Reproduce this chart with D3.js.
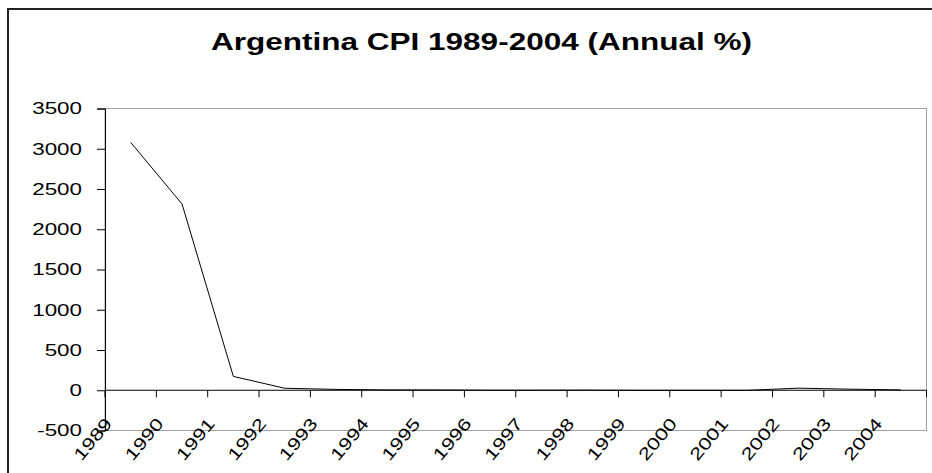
<!DOCTYPE html>
<html>
<head>
<meta charset="utf-8">
<script src="https://cdn.jsdelivr.net/npm/d3@7"></script>
<style>
  body { margin: 0; background: #fff; }
  text { font-family: "Liberation Sans", Arial, sans-serif; }
</style>
</head>
<body>
<div id="chart"></div>
<script>
const years = ['1989', '1990', '1991', '1992', '1993', '1994', '1995', '1996',
  '1997', '1998', '1999', '2000', '2001', '2002', '2003', '2004'];
const cpi = [3079.5, 2314.0, 171.7, 24.9, 10.6, 4.2, 3.4, 0.2,
  0.5, 0.9, -1.2, -0.9, -1.1, 25.9, 13.4, 4.4];
const yTicks = [-500, 0, 500, 1000, 1500, 2000, 2500, 3000, 3500];

const width = 932, height = 473;
const plot = { left: 105, right: 926.5, top: 108.5, bottom: 430.5 };
const stretch = 1.4; // text in the picture is drawn wide

const svg = d3.select('#chart')
  .append('svg')
  .attr('width', width)
  .attr('height', height);

// outer chart frame (runs off the right and bottom edge)
svg.append('rect')
  .attr('x', 8).attr('y', 9)
  .attr('width', 960).attr('height', 500)
  .attr('fill', 'none')
  .attr('stroke', '#222')
  .attr('stroke-width', 2);

svg.append('text')
  .attr('x', 211)
  .attr('y', 50)
  .attr('font-size', 23)
  .attr('font-weight', 'bold')
  .attr('textLength', 541)
  .attr('lengthAdjust', 'spacingAndGlyphs')
  .text('Argentina CPI 1989-2004 (Annual %)');

const x = d3.scaleBand()
  .domain(years)
  .range([plot.left, plot.right]);

const y = d3.scaleLinear()
  .domain([-500, 3500])
  .range([plot.bottom, plot.top]);

// plot area border
svg.append('rect')
  .attr('x', plot.left).attr('y', plot.top)
  .attr('width', plot.right - plot.left)
  .attr('height', plot.bottom - plot.top)
  .attr('fill', '#fff')
  .attr('stroke', '#a0a0a0')
  .attr('stroke-width', 1);

// y axis
const yAxis = svg.append('g')
  .attr('transform', `translate(${plot.left},0)`)
  .call(d3.axisLeft(y).tickValues(yTicks).tickSize(8).tickFormat(''));
yAxis.select('.domain').attr('stroke', '#000');
yAxis.selectAll('.tick line').attr('stroke', '#000');

svg.append('g')
  .selectAll('text')
  .data(yTicks)
  .enter()
  .append('text')
  .attr('transform', (d) => `translate(82,${y(d)}) scale(${stretch},1)`)
  .attr('dy', '0.36em')
  .attr('text-anchor', 'end')
  .attr('font-size', 16)
  .attr('fill', '#000')
  .text((d) => d);

// category axis on the zero line, ticks between categories
const edges = years.map((d) => x(d)).concat([plot.right]);
svg.append('line')
  .attr('x1', plot.left).attr('x2', plot.right)
  .attr('y1', y(0)).attr('y2', y(0))
  .attr('stroke', '#000');

svg.append('g')
  .selectAll('line')
  .data(edges)
  .enter()
  .append('line')
  .attr('x1', (d) => d).attr('x2', (d) => d)
  .attr('y1', y(0)).attr('y2', y(0) + 7)
  .attr('stroke', '#000');

svg.append('g')
  .selectAll('text')
  .data(years)
  .enter()
  .append('text')
  .attr('transform', (d) => `translate(${x(d) + 8},424) rotate(-50) scale(1.3,1)`)
  .attr('text-anchor', 'end')
  .attr('font-size', 17)
  .attr('fill', '#000')
  .text((d) => d);

// data line
const line = d3.line()
  .x((d, i) => x(years[i]) + x.bandwidth() / 2)
  .y((d) => y(d));

svg.append('path')
  .datum(cpi)
  .attr('fill', 'none')
  .attr('stroke', '#000')
  .attr('stroke-width', 1)
  .attr('d', line);
</script>
</body>
</html>
